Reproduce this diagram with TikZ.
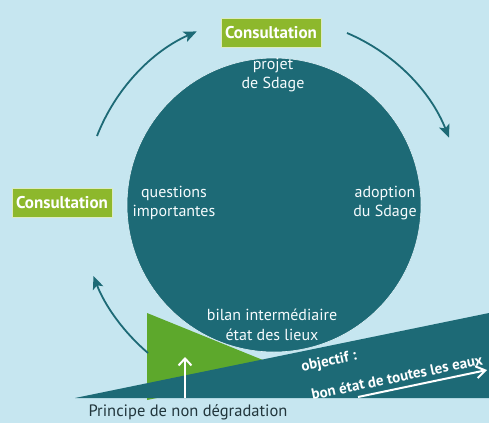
\documentclass[tikz,border=0pt]{standalone}
\usepackage{fontspec}
\setmainfont{PT Sans}
\usetikzlibrary{arrows.meta,calc}
\definecolor{skyback}{HTML}{C6E6F0}
\definecolor{deepteal}{HTML}{1D6A76}
\definecolor{leafgreen}{HTML}{5DA82C}
\definecolor{boxgreen}{HTML}{8DB82C}
\definecolor{inkdark}{HTML}{22363C}
\begin{document}
\begin{tikzpicture}[x=1pt,y=-1pt,
    cycle arrow/.style={draw=deepteal,line width=1.8pt,-{Stealth[length=13pt,width=11pt,inset=3pt]}},
    consult/.style={fill=boxgreen,draw=white!70!boxgreen,line width=0.8pt,text=white,
      font=\bfseries\fontsize{17}{19}\selectfont,inner xsep=4pt,minimum height=29pt},
    cycle text/.style={text=white!85!skyback,align=center,font=\fontsize{16}{19.5}\selectfont}]
  \useasboundingbox (0,0) rectangle (489,423);
  \fill[skyback] (0,0) rectangle (489,423);

  % green wedge and blue band
  \fill[leafgreen] (147,313) -- (290,371) -- (147,400) -- cycle;
  \fill[deepteal] (75,398) -- (489,313) -- (489,398) -- cycle;

  % the cycle
  \node[circle,fill=deepteal,draw=white!40!skyback,line width=0.6pt,minimum size=294pt,inner sep=0pt] (cyc) at (274,205) {};
  \node[cycle text] (projet) at (273,75) {projet\\de Sdage};
  \node[cycle text] (questions) at (174,203) {questions\\importantes};
  \node[cycle text] (adoption) at (385,203) {adoption\\du Sdage};
  \node[cycle text] (bilan) at (272,325) {bilan intermédiaire\\état des lieux};

  \node[consult] (c1) at (271,33) {Consultation};
  \node[consult] (c2) at (62,203) {Consultation};

  \coordinate (a1) at ($(cyc.center)+(-177,-69)$);
  \coordinate (a3) at ($(cyc.center)+(73,-172)$);
  \coordinate (a5) at ($(cyc.center)+(-126,148)$);
  \draw[cycle arrow] (a1) arc[start angle=-158.7,end angle=-114,radius=190];
  \draw[cycle arrow] (a3) arc[start angle=-67,end angle=-21.5,radius=189];
  \draw[cycle arrow] (a5) arc[start angle=130.4,end angle=159,radius=191];

  % objective band
  \coordinate (w1) at (358,397);
  \coordinate (w2) at (487,370);
  \draw[white,line width=2pt,-{Straight Barb[length=9pt,width=12pt]}] (w1) -- (w2);
  \node[text=white,font=\bfseries\fontsize{15}{17}\selectfont,rotate=11.6] (obj) at (329,362) {objectif :};
  \node[text=white,font=\bfseries\fontsize{15}{17}\selectfont,rotate=11.6] (bon) at (397,377) {bon état de toutes les eaux};

  % non degradation
  \node[text=inkdark,font=\fontsize{16.5}{18}\selectfont] (principe) at (188,412) {Principe de non dégradation};
  \coordinate (p1) at (185,398);
  \coordinate (p2) at (185,357);
  \draw[white,line width=2pt,-{Straight Barb[length=7pt,width=13pt]}] (p1) -- (p2);
\end{tikzpicture}
\end{document}
